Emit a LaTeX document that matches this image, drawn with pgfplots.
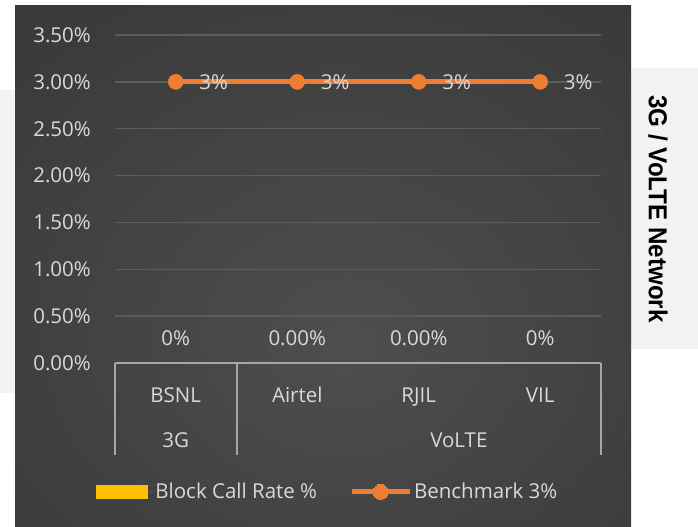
\documentclass[border=0pt]{standalone}
\usepackage{fontspec}
\setmainfont{Open Sans}
\newfontfamily\titlefont{Liberation Sans}
\usepackage{pgfplots}
\pgfplotsset{compat=1.18}
\definecolor{txt}{HTML}{D9D9D9}
\definecolor{orng}{HTML}{ED7D31}
\definecolor{barc}{HTML}{FFC000}
\definecolor{gridc}{HTML}{5C5C5C}
\definecolor{axc}{HTML}{A6A6A6}
\definecolor{bgin}{HTML}{4E4E4E}
\definecolor{bgout}{HTML}{262626}
\definecolor{panel}{HTML}{F2F2F2}
\pgfdeclareradialshading{bgshade}{\pgfpoint{2bp}{-8bp}}{color(0bp)=(bgin); color(72bp)=(bgout)}
\begin{document}
\begin{tikzpicture}[font=\fontsize{20.5bp}{24bp}\selectfont]
\useasboundingbox (0,0) rectangle (698bp,527bp);
\fill[white] (0,0) rectangle (698bp,527bp);
\fill[panel] (0,134bp) rectangle (15bp,437bp);
\fill[panel] (631bp,178bp) rectangle (698bp,459bp);
\shade[shading=bgshade] (15bp,0) rectangle (631bp,521bp);
\node[rotate=-90, font=\titlefont\bfseries\fontsize{26bp}{30bp}\selectfont, text=black] at (658bp,318bp) {\scalebox{0.93}[1]{3G / VoLTE Network}};
\begin{axis}[
  at={(115bp,164bp)}, anchor=south west,
  scale only axis, width=486bp, height=328bp,
  xmin=-0.5, xmax=3.5, ymin=0, ymax=3.5,
  axis line style={draw=none},
  tick style={draw=none},
  xtick=\empty,
  ytick={0,0.5,1,1.5,2,2.5,3,3.5},
  yticklabels={0.00\%,0.50\%,1.00\%,1.50\%,2.00\%,2.50\%,3.00\%,3.50\%},
  yticklabel style={text=txt, anchor=east, inner sep=0pt, xshift=-24bp},
  ymajorgrids, grid style={gridc, line width=1.5bp},
  clip=false,
  legend style={at={(axis description cs:0.438,-0.393)}, anchor=center, draw=none, fill=none, text=txt, legend columns=2,
    /tikz/every even column/.append style={column sep=30bp}},
]
\addplot[ybar, bar width=40bp, fill=barc, draw=none,
  legend image code/.code={\fill[barc] (0bp,-7bp) rectangle (52bp,7bp); \path (0bp,0bp) -- (57bp,0bp);},
  nodes near coords, point meta=explicit symbolic,
  every node near coord/.append style={text=txt, anchor=center, yshift=25bp}]
  coordinates {(0,0) [0\%] (1,0) [0.00\%] (2,0) [0.00\%] (3,0) [0\%]};
\addlegendentry{Block Call Rate \%}
\addplot[orng, line width=5bp, mark=*, mark size=7.5bp, mark options={fill=orng, draw=orng, line width=0.5bp},
  legend image code/.code={\draw[orng, line width=5bp] (0bp,0bp) -- (58bp,0bp); \fill[orng, line width=0pt] (29bp,0bp) circle (7.5bp);},
  nodes near coords={3\%},
  every node near coord/.append style={text=txt, anchor=center, xshift=38bp}]
  coordinates {(0,3) (1,3) (2,3) (3,3)};
\addlegendentry{Benchmark 3\%}
\draw[axc, line width=2bp] (axis cs:-0.5,0) -- (axis cs:3.5,0);
\draw[axc, line width=2bp] (axis cs:-0.5,0) -- (axis cs:-0.5,-0.982);
\draw[axc, line width=2bp] (axis cs:0.5,0) -- (axis cs:0.5,-0.982);
\draw[axc, line width=2bp] (axis cs:3.5,0) -- (axis cs:3.5,-0.982);
\node[text=txt, anchor=base, yshift=-39.5bp] at (axis cs:0,0) {BSNL};
\node[text=txt, anchor=base, yshift=-39.5bp] at (axis cs:1,0) {Airtel};
\node[text=txt, anchor=base, yshift=-39.5bp] at (axis cs:2,0) {RJIL};
\node[text=txt, anchor=base, yshift=-39.5bp] at (axis cs:3,0) {VIL};
\node[text=txt, anchor=base, yshift=-84.5bp] at (axis cs:0,0) {3G};
\node[text=txt, anchor=base, yshift=-84.5bp] at (axis cs:2.33,0) {VoLTE};
\end{axis}
\end{tikzpicture}
\end{document}
